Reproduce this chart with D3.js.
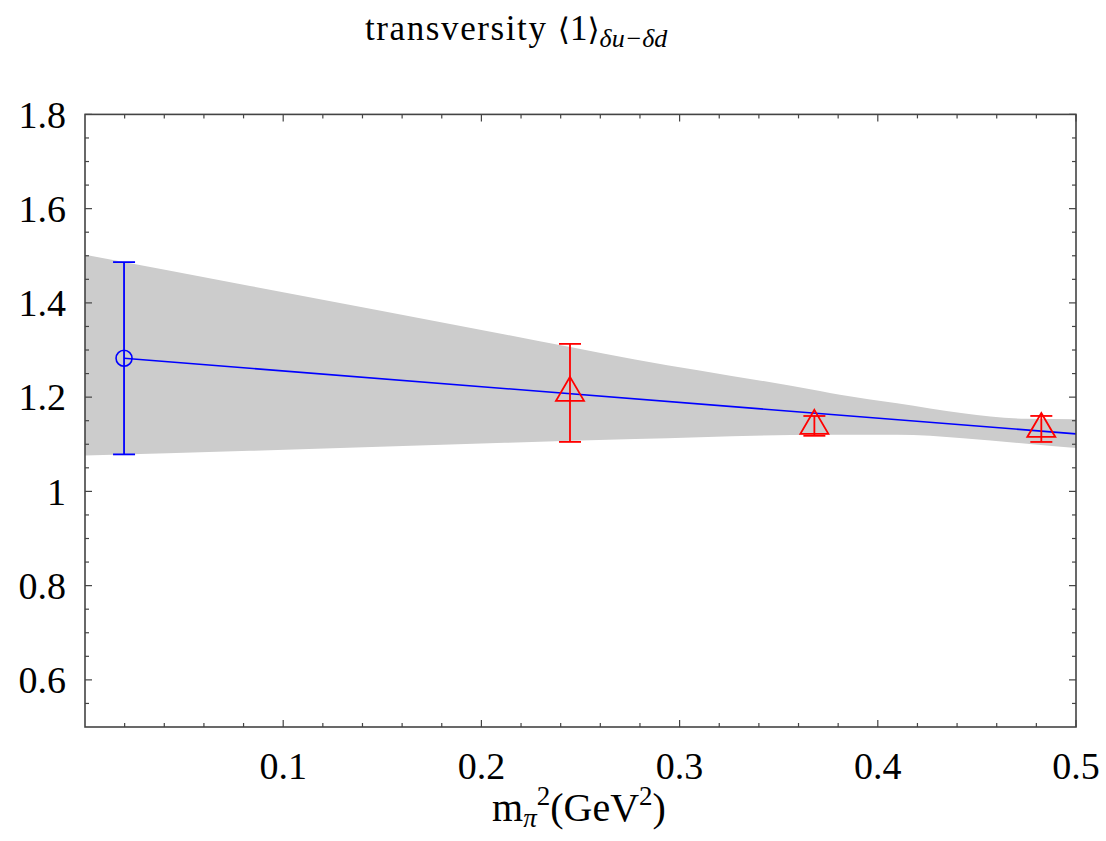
<!DOCTYPE html>
<html>
<head>
<meta charset="utf-8">
<script src="https://cdn.jsdelivr.net/npm/d3@7"></script>
<style>
  html, body { margin: 0; padding: 0; background: #fff; }
  svg { display: block; }
  text { font-family: "Liberation Serif", "DejaVu Serif", serif; fill: #000; }
</style>
</head>
<body>
<svg id="chart" width="1106" height="841"></svg>
<script>
// Lattice points: m_pi^2 (GeV^2), value, error
const physX = [0.0197];
const physY = [1.2825];
const physErr = [0.204];

const latX = [0.2447, 0.368, 0.4825];
const latY = [1.209, 1.139, 1.1325];
const latErr = [0.104, 0.021, 0.0276];

// Linear chiral fit
const fitIntercept = 1.289;
const fitSlope = -0.334;

// Error band of the fit
const bandX     = [0.0,   0.0833, 0.2119, 0.2775, 0.3708, 0.3809, 0.4097, 0.4430, 0.4753, 0.5];
const bandUpper = [1.502, 1.436,  1.333,  1.280,  1.213,  1.205,  1.187,  1.166,  1.154,  1.153];
const bandLower = [1.076, 1.086,  1.103,  1.111,  1.120,  1.120,  1.120,  1.113,  1.101,  1.092];

const xTickLabels = ["0.1", "0.2", "0.3", "0.4", "0.5"];
const xTickValues = [0.1, 0.2, 0.3, 0.4, 0.5];
const yTickLabels = ["0.6", "0.8", "1", "1.2", "1.4", "1.6", "1.8"];
const yTickValues = [0.6, 0.8, 1.0, 1.2, 1.4, 1.6, 1.8];

const svg = d3.select("#chart");
const L = 85, R = 1076, T = 114.4, B = 727;

const x = d3.scaleLinear().domain([0, 0.5]).range([L, R]);
const y = d3.scaleLinear().domain([0.5, 1.8]).range([B, T]);

// band
const band = bandX.map((v, i) => ({x: v, u: bandUpper[i], l: bandLower[i]}));
svg.append("path")
  .datum(band)
  .attr("d", d3.area().x(d => x(d.x)).y0(d => y(d.l)).y1(d => y(d.u)).curve(d3.curveMonotoneX))
  .attr("fill", "#cccccc");

// fit line
const fitPts = [physX[0], 0.5].map(v => [v, fitIntercept + fitSlope * v]);
svg.append("path")
  .datum(fitPts)
  .attr("d", d3.line().x(d => x(d[0])).y(d => y(d[1])))
  .attr("fill", "none").attr("stroke", "#0000ff").attr("stroke-width", 1.6);

// error bars
function errorBar(cx, cy, e, color) {
  const g = svg.append("g").attr("stroke", color).attr("stroke-width", 1.8).attr("fill", "none");
  g.append("line").attr("x1", x(cx)).attr("x2", x(cx)).attr("y1", y(cy - e)).attr("y2", y(cy + e));
  [cy - e, cy + e].forEach(v => {
    g.append("line").attr("x1", x(cx) - 11).attr("x2", x(cx) + 11).attr("y1", y(v)).attr("y2", y(v));
  });
}

physX.forEach((v, i) => {
  errorBar(v, physY[i], physErr[i], "#0000ff");
  svg.append("circle").attr("cx", x(v)).attr("cy", y(physY[i])).attr("r", 8)
    .attr("fill", "none").attr("stroke", "#0000ff").attr("stroke-width", 1.6);
});

latX.forEach((v, i) => {
  errorBar(v, latY[i], latErr[i], "#ff0000");
  const cx = x(v), cy = y(latY[i]);
  const h = 24, w = 28;
  svg.append("path")
    .attr("d", `M${cx},${cy - 2 * h / 3}L${cx + w / 2},${cy + h / 3}L${cx - w / 2},${cy + h / 3}Z`)
    .attr("fill", "none").attr("stroke", "#ff0000").attr("stroke-width", 1.8);
});

// frame and ticks
const axisColor = "#444";
svg.append("rect").attr("x", L).attr("y", T).attr("width", R - L).attr("height", B - T)
  .attr("fill", "none").attr("stroke", axisColor).attr("stroke-width", 1.6);

const xMinor = d3.range(0.02, 0.5, 0.02).filter(v => Math.abs(v * 10 - Math.round(v * 10)) > 1e-6);
const yMinor = d3.range(0.55, 1.8, 0.05).filter(v => Math.abs(v * 5 - Math.round(v * 5)) > 1e-6);

const tg = svg.append("g").attr("stroke", axisColor).attr("stroke-width", 1.2);
xTickValues.forEach(v => {
  tg.append("line").attr("x1", x(v)).attr("x2", x(v)).attr("y1", B).attr("y2", B - 7);
  tg.append("line").attr("x1", x(v)).attr("x2", x(v)).attr("y1", T).attr("y2", T + 7);
});
xMinor.forEach(v => {
  tg.append("line").attr("x1", x(v)).attr("x2", x(v)).attr("y1", B).attr("y2", B - 4);
  tg.append("line").attr("x1", x(v)).attr("x2", x(v)).attr("y1", T).attr("y2", T + 4);
});
yTickValues.forEach(v => {
  tg.append("line").attr("x1", L).attr("x2", L + 7).attr("y1", y(v)).attr("y2", y(v));
  tg.append("line").attr("x1", R).attr("x2", R - 7).attr("y1", y(v)).attr("y2", y(v));
});
yMinor.forEach(v => {
  tg.append("line").attr("x1", L).attr("x2", L + 4).attr("y1", y(v)).attr("y2", y(v));
  tg.append("line").attr("x1", R).attr("x2", R - 4).attr("y1", y(v)).attr("y2", y(v));
});

// tick labels
xTickValues.forEach((v, i) => {
  svg.append("text").attr("x", x(v)).attr("y", 779).attr("text-anchor", "middle")
    .attr("font-size", 38).text(xTickLabels[i]);
});
yTickValues.forEach((v, i) => {
  svg.append("text").attr("x", 66).attr("y", y(v)).attr("dy", "0.35em").attr("text-anchor", "end")
    .attr("font-size", 38).text(yTickLabels[i]);
});

// axis label
const xl = svg.append("text").attr("x", 579).attr("y", 821).attr("text-anchor", "middle").attr("font-size", 40);
xl.append("tspan").text("m");
xl.append("tspan").attr("font-style", "italic").attr("font-size", 27).attr("dy", 6).text("π");
xl.append("tspan").attr("font-size", 27).attr("dy", -22).text("2");
xl.append("tspan").attr("dy", 16).text("(GeV");
xl.append("tspan").attr("font-size", 27).attr("dy", -16).text("2");
xl.append("tspan").attr("dy", 16).text(")");

// title: word, angle brackets and subscript as separate runs
const tt = svg.append("text").attr("x", 365).attr("y", 40).attr("font-size", 35);
tt.append("tspan").attr("letter-spacing", 1.6).text("transversity ");
tt.append("tspan").attr("font-family", "'DejaVu Sans'").attr("font-size", 31).text("⟨");
tt.append("tspan").text("1");
tt.append("tspan").attr("font-family", "'DejaVu Sans'").attr("font-size", 31).text("⟩");
tt.append("tspan").attr("font-style", "italic").attr("font-size", 26).attr("dy", 7).text("δu−δd");
</script>
</body>
</html>
